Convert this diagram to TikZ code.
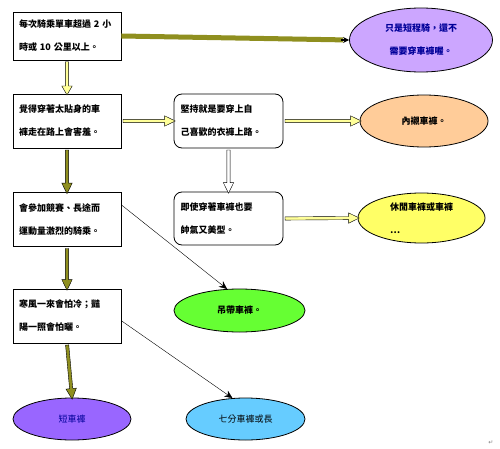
\documentclass[tikz,border=0pt]{standalone}
\usepackage{fontspec}
\setmainfont{Noto Sans CJK TC}
\newfontfamily\symfont{DejaVu Sans}
\usepackage{tikz}
\usetikzlibrary{shapes.geometric,shapes.arrows,arrows.meta,calc}
\definecolor{boxYellow}{HTML}{FFFF99}
\definecolor{barOlive}{HTML}{8F8F1F}
\definecolor{lilac}{HTML}{CCA6FF}
\definecolor{peach}{HTML}{FFCC99}
\definecolor{lemon}{HTML}{FFFF66}
\definecolor{lime}{HTML}{66FF33}
\definecolor{violet}{HTML}{9966FF}
\definecolor{sky}{HTML}{66CCFF}
\definecolor{navyText}{HTML}{000099}
\newcommand{\blockArrow}[3]{%
  \path let \p1=(#2), \p2=(#3), \n1={veclen(\x2-\x1,\y2-\y1)} in
    (\p1) -- (\p2) node[midway,sloped,allow upside down,#1,minimum height=\n1] {};}

\begin{document}
\begin{tikzpicture}[x=1pt,y=-1pt,>=Stealth,
  every node/.style={font=\fontsize{9}{23}\selectfont\bfseries},
  stepbox/.style={draw,thick,fill=white,minimum width=108pt,minimum height=54pt,
    text width=96pt,align=left,inner sep=0pt},
  roundbox/.style={stepbox,rounded corners=8pt},
  oval/.style={ellipse,draw,thick,inner sep=0pt,align=center},
  blockbase/.style={single arrow,draw,thin,text height=0pt,text depth=0pt,
    inner xsep=0pt,inner ysep=1.4pt,minimum width=0pt,
    single arrow head extend=3.6pt,single arrow tip angle=52},
  yellowArrow/.style={blockbase,fill=boxYellow},
  whiteArrow/.style={blockbase,fill=white},
  oliveArrow/.style={blockbase,fill=barOlive},
  thinArrow/.style={draw,thin,-{Stealth[length=8pt,width=7pt]}}]
  \useasboundingbox (0,0) rectangle (500,449);

  % left column
  \node[stepbox,minimum height=48pt] (Ride) at (67,36) {每次騎乘單車超過 2 小\\時或 10 公里以上。};
  \node[stepbox] (Shy) at (67,121) {覺得穿著太貼身的車\\褲走在路上會害羞。};
  \node[stepbox] (Race) at (67,219.5) {會參加競賽、長途而\\運動量激烈的騎乘。};
  \node[stepbox] (Weather) at (67,316) {寒風一來會怕冷；豔\\陽一照會怕曬。};

  % middle column
  \node[roundbox,minimum width=109pt] (Own) at (228.5,121) {堅持就是要穿上自\\己喜歡的衣褲上路。};
  \node[roundbox,minimum width=109pt,minimum height=53pt] (Stylish) at (228.5,218.5) {即使穿著車褲也要\\帥氣又美型。};

  % results
  \node[oval,fill=lilac,text=navyText,minimum width=143pt,minimum height=64pt] (Short) at (421,40) {只是短程騎，還不\\需要穿車褲喔。};
  \node[oval,fill=peach,minimum width=128pt,minimum height=52pt] (Liner) at (424,121) {內襯車褲。};
  \node[oval,fill=lemon,minimum width=127pt,minimum height=50pt,align=left] (Casual) at (421.5,218) {休閒車褲或車褲\\…};
  \node[oval,fill=lime,minimum width=131pt,minimum height=43pt] (Bib) at (239.5,310.5) {吊帶車褲。};
  \node[oval,fill=violet,text=navyText,font=\fontsize{9}{11}\selectfont,minimum width=118pt,minimum height=42pt] (ShortPants) at (72,419) {短車褲};
  \node[oval,fill=sky,font=\fontsize{9}{11}\selectfont,minimum width=119pt,minimum height=42pt] (Long) at (245.5,419) {七分車褲或長};

  % connectors
  \draw[barOlive,line width=5pt,shorten >=6pt] (Ride.east) -- (Short.west);
  \draw[line width=1.5pt,-{Stealth[length=6pt,width=6pt]}] ([xshift=-8pt]Short.west) -- (Short.west);
  \blockArrow{yellowArrow,single arrow tip angle=60}{Ride.south}{Shy.north}
  \blockArrow{yellowArrow}{Shy.east}{Own.west}
  \blockArrow{yellowArrow}{Own.east}{Liner.west}
  \blockArrow{whiteArrow}{Own.south}{Stylish.north}
  \blockArrow{yellowArrow}{Stylish.east}{Casual.west}
  \blockArrow{oliveArrow}{Shy.south}{Race.north}
  \blockArrow{oliveArrow}{Race.south}{Weather.north}
  \blockArrow{oliveArrow}{Weather.south}{ShortPants.north}
  \draw[thinArrow] (Race.15) -- (Bib.120);
  \draw[thinArrow] (Weather.-5) -- (Long.122);

  \node[font=\symfont\fontsize{6}{7}\selectfont,text=gray] (Mark) at (491,443) {↵};
\end{tikzpicture}
\end{document}
